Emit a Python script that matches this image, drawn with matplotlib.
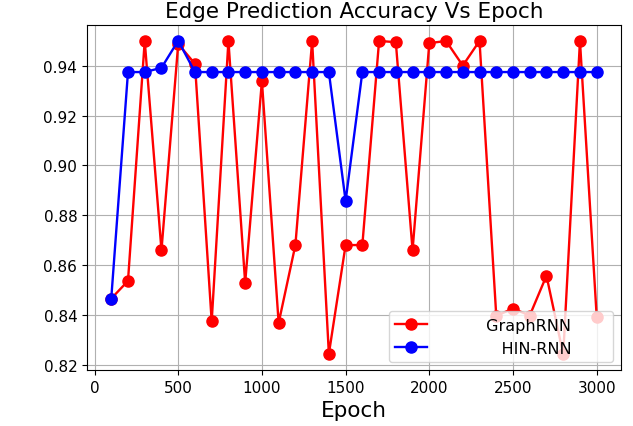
import numpy as np
import matplotlib
matplotlib.use('Agg')
import matplotlib.pyplot as plt

epochs = np.arange(100, 3001, 100)

graphrnn = [0.8465, 0.8536, 0.9500, 0.8659, 0.9488, 0.9408, 0.8373, 0.9500,
            0.8528, 0.9339, 0.8367, 0.8680, 0.9500, 0.8243, 0.8680, 0.8680,
            0.9500, 0.9495, 0.8659, 0.9491, 0.9500, 0.9401, 0.9500, 0.8396,
            0.8425, 0.8397, 0.8557, 0.8241, 0.9500, 0.8392]

hinrnn = [0.8465, 0.9375, 0.9375, 0.9392, 0.9501, 0.9375, 0.9375, 0.9375,
          0.9375, 0.9375, 0.9375, 0.9375, 0.9375, 0.9375, 0.8857, 0.9375,
          0.9375, 0.9375, 0.9375, 0.9375, 0.9375, 0.9375, 0.9375, 0.9375,
          0.9375, 0.9375, 0.9375, 0.9375, 0.9375, 0.9375]

# padded labels, as in the original legend
labels = [' ' * 9 + 'GraphRNN' + ' ' * 7, ' ' * 12 + 'HIN-RNN' + ' ' * 6]

fig = plt.figure(figsize=(6.33, 4.27), dpi=100)
ax = fig.add_axes([0.1374, 0.1311, 0.8436, 0.808])

ax.plot(epochs, graphrnn, 'o-', color='red', lw=1.7, markersize=8,
        label=labels[0])
ax.plot(epochs, hinrnn, 'o-', color='blue', lw=1.7, markersize=8,
        label=labels[1])

ax.grid(True)
ax.set_axisbelow(True)
ax.tick_params(labelsize=11)
ax.set_xticks([0, 500, 1000, 1500, 2000, 2500, 3000])
ax.set_xlabel('Epoch', fontsize=15.5)
ax.set_title('Edge Prediction Accuracy Vs Epoch', fontsize=15.5, pad=6)
ax.legend(loc='lower right', fontsize=11.5)

fig.savefig('out.png', dpi=100)
